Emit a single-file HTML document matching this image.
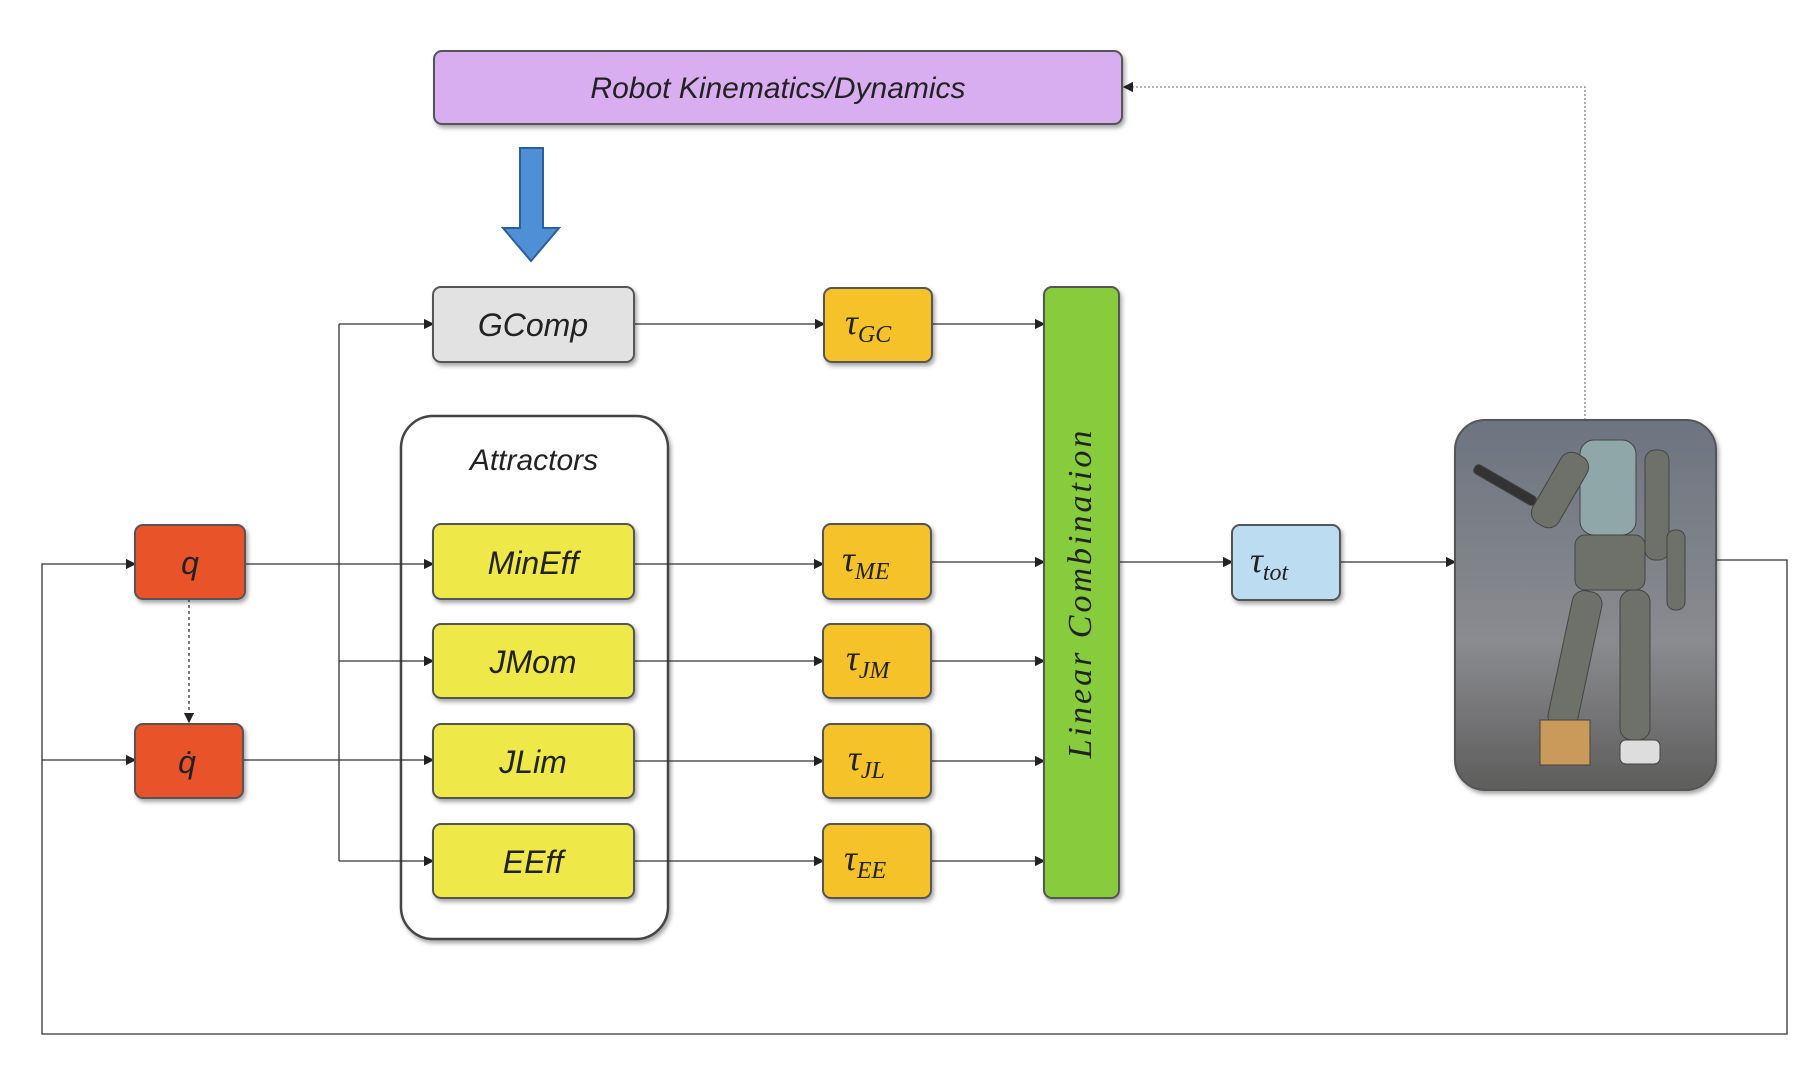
<!DOCTYPE html>
<html><head><meta charset="utf-8"><style>
html,body{margin:0;padding:0;background:#fff;}
svg{display:block;}
text{font-family:"Liberation Sans",sans-serif;font-style:italic;}
.s{font-family:"Liberation Serif",serif;}
</style></head><body>
<svg width="1798" height="1068" viewBox="0 0 1798 1068" xmlns="http://www.w3.org/2000/svg">
<defs>
<marker id="a" markerWidth="8" markerHeight="8" refX="7" refY="4" orient="auto"><path d="M0,0 L8,4 L0,8 z" fill="#222"/></marker>
<filter id="sh" x="-10%" y="-10%" width="130%" height="140%"><feDropShadow dx="2" dy="3" stdDeviation="2" flood-color="#000" flood-opacity="0.35"/></filter>
<linearGradient id="rb" x1="0" y1="0" x2="0" y2="1"><stop offset="0" stop-color="#6d7480"/><stop offset="0.6" stop-color="#8a8b8f"/><stop offset="1" stop-color="#5e5d5c"/></linearGradient>
</defs>
<!-- attractors container -->
<rect x="401" y="416" width="267" height="523" rx="32" fill="#fff" stroke="#444" stroke-width="2.5" filter="url(#sh)"/>
<text x="534" y="470" font-size="30" text-anchor="middle" fill="#222">Attractors</text>
<g stroke="#333" stroke-width="1.3" fill="none">
<polyline points="1716,560 1787,560 1787,1034 42,1034 42,564 135,564" marker-end="url(#a)"/>
<polyline points="42,760 135,760" marker-end="url(#a)"/>
<line x1="189" y1="599" x2="189" y2="722" stroke-dasharray="3,3" marker-end="url(#a)"/>
<line x1="245" y1="564" x2="433" y2="564" marker-end="url(#a)"/>
<line x1="243" y1="760" x2="433" y2="760" marker-end="url(#a)"/>
<line x1="339" y1="324" x2="339" y2="861"/>
<line x1="339" y1="324" x2="433" y2="324" marker-end="url(#a)"/>
<line x1="339" y1="661" x2="433" y2="661" marker-end="url(#a)"/>
<line x1="339" y1="861" x2="433" y2="861" marker-end="url(#a)"/>
<line x1="634" y1="324" x2="824" y2="324" marker-end="url(#a)"/>
<line x1="634" y1="564" x2="823" y2="564" marker-end="url(#a)"/>
<line x1="634" y1="661" x2="823" y2="661" marker-end="url(#a)"/>
<line x1="634" y1="761" x2="823" y2="761" marker-end="url(#a)"/>
<line x1="634" y1="861" x2="823" y2="861" marker-end="url(#a)"/>
<line x1="932" y1="324" x2="1044" y2="324" marker-end="url(#a)"/>
<line x1="931" y1="562" x2="1044" y2="562" marker-end="url(#a)"/>
<line x1="931" y1="661" x2="1044" y2="661" marker-end="url(#a)"/>
<line x1="931" y1="761" x2="1044" y2="761" marker-end="url(#a)"/>
<line x1="931" y1="861" x2="1044" y2="861" marker-end="url(#a)"/>
<line x1="1119" y1="562" x2="1232" y2="562" marker-end="url(#a)"/>
<line x1="1340" y1="562" x2="1455" y2="562" marker-end="url(#a)"/>
<polyline points="1585,420 1585,87 1124,87" stroke="#888" stroke-dasharray="2,2" marker-end="url(#a)"/>
</g>
<rect x="434" y="51" width="688" height="73" rx="8" fill="#d9aef0" stroke="#555" stroke-width="2" filter="url(#sh)"/>
<text x="778" y="98" font-size="30" text-anchor="middle" fill="#222">Robot Kinematics/Dynamics</text>
<path d="M520,148 L543,148 L543,228 L559,228 L531,261 L503,228 L520,228 Z" fill="#4f8fd6" stroke="#2d5f9a" stroke-width="2"/>
<g stroke="#555" stroke-width="2" filter="url(#sh)">
<rect x="433" y="287" width="201" height="75" rx="8" fill="#e2e2e2"/>
<rect x="433" y="524" width="201" height="75" rx="8" fill="#eee84a"/>
<rect x="433" y="624" width="201" height="74" rx="8" fill="#eee84a"/>
<rect x="433" y="724" width="201" height="74" rx="8" fill="#eee84a"/>
<rect x="433" y="824" width="201" height="74" rx="8" fill="#eee84a"/>
<rect x="824" y="288" width="108" height="74" rx="8" fill="#f5c22a"/>
<rect x="823" y="524" width="108" height="75" rx="8" fill="#f5c22a"/>
<rect x="823" y="624" width="108" height="74" rx="8" fill="#f5c22a"/>
<rect x="823" y="724" width="108" height="74" rx="8" fill="#f5c22a"/>
<rect x="823" y="824" width="108" height="74" rx="8" fill="#f5c22a"/>
<rect x="1044" y="287" width="75" height="611" rx="8" fill="#86cc3c"/>
<rect x="135" y="525" width="110" height="74" rx="8" fill="#e8522a"/>
<rect x="135" y="724" width="108" height="74" rx="8" fill="#e8522a"/>
<rect x="1232" y="525" width="108" height="75" rx="8" fill="#bcdcf2"/>
</g>
<g font-size="32" text-anchor="middle" fill="#222">
<text x="533" y="336">GComp</text>
<text x="533" y="574">MinEff</text>
<text x="533" y="673">JMom</text>
<text x="533" y="773">JLim</text>
<text x="533" y="873">EEff</text>
<text x="190" y="574">q</text>
<text x="187" y="773">q̇</text>
<text class="s" x="1091" y="593" transform="rotate(-90 1091 593)" font-size="34" letter-spacing="3">Linear Combination</text>
</g>
<g class="s" fill="#222" font-size="36">
<text class="s" x="845" y="334">τ<tspan font-size="24" dy="8">GC</tspan></text>
<text class="s" x="842" y="571">τ<tspan font-size="24" dy="8">ME</tspan></text>
<text class="s" x="846" y="670">τ<tspan font-size="24" dy="8">JM</tspan></text>
<text class="s" x="848" y="770">τ<tspan font-size="24" dy="8">JL</tspan></text>
<text class="s" x="844" y="870">τ<tspan font-size="24" dy="8">EE</tspan></text>
<text class="s" x="1250" y="572">τ<tspan font-size="24" dy="8">tot</tspan></text>
</g>
<g filter="url(#sh)">
<rect x="1455" y="420" width="261" height="370" rx="30" fill="url(#rb)" stroke="#555" stroke-width="2"/>
</g>
<g fill="#6d716a" stroke="#444" stroke-width="1">
<rect x="1580" y="440" width="56" height="95" rx="14" fill="#8fa7a8"/>
<rect x="1545" y="450" width="30" height="80" rx="12" transform="rotate(30 1560 490)"/>
<rect x="1645" y="450" width="24" height="110" rx="10"/>
<rect x="1667" y="530" width="18" height="80" rx="8"/>
<rect x="1470" y="480" width="70" height="10" rx="4" transform="rotate(30 1505 485)" fill="#333"/>
<rect x="1575" y="535" width="70" height="55" rx="10"/>
<rect x="1560" y="590" width="30" height="140" rx="12" transform="rotate(12 1575 660)"/>
<rect x="1620" y="590" width="30" height="150" rx="12"/>
<rect x="1540" y="720" width="50" height="45" fill="#c99a5a"/>
<rect x="1620" y="740" width="40" height="24" rx="6" fill="#ddd"/>
</g>
</svg>
</body></html>
